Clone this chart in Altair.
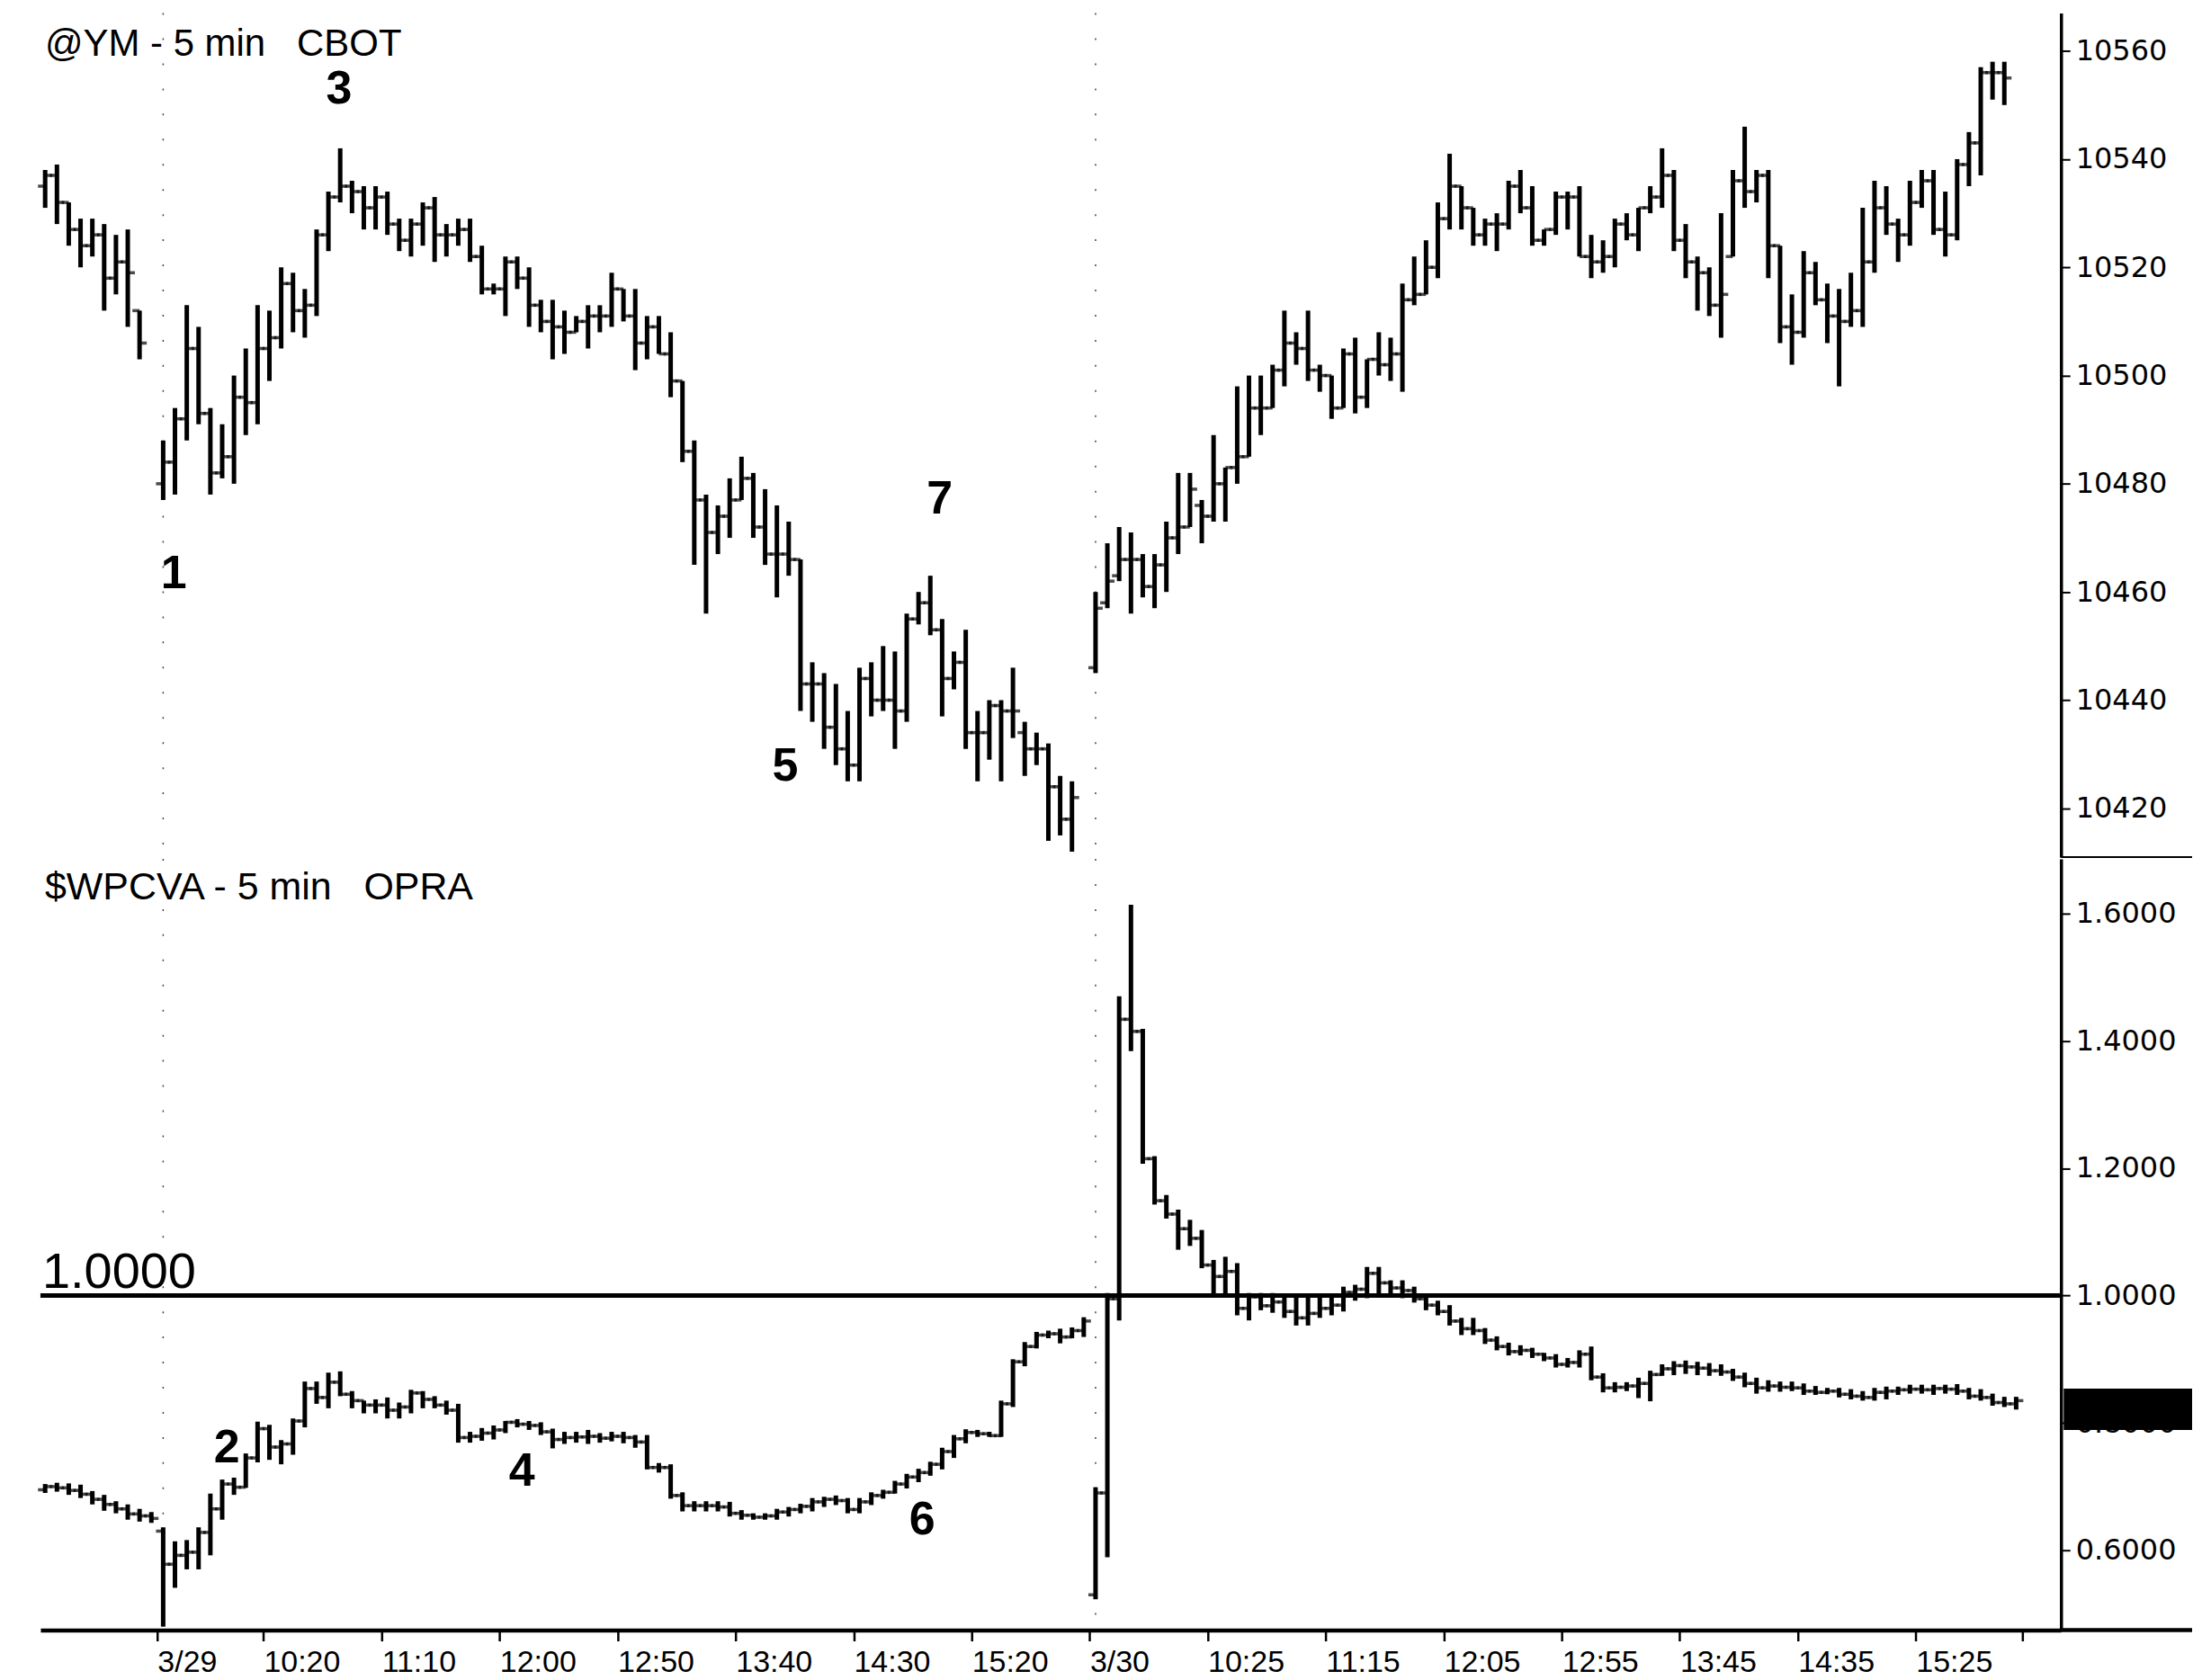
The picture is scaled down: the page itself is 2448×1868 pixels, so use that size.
import altair as alt
import pandas as pd

# ---------------- data ----------------
# @YM 5-min bars: segment start index (bar slot) for prior day, 3/29, 3/30
ym_start = [-10, 0, 79]
ym_open = [
    [10535, 10537, 10532, 10527, 10524, 10526, 10518, 10521, 10512],
    [10480, 10484, 10492, 10505, 10493, 10482, 10485, 10496, 10495, 10505,
     10507, 10517, 10512, 10513, 10526, 10533, 10535, 10534, 10531, 10533,
     10528, 10525, 10528, 10531, 10526, 10526, 10527, 10522, 10516, 10516,
     10521, 10518, 10513, 10510, 10509, 10508, 10510, 10511, 10511, 10516,
     10511, 10506, 10509, 10504, 10499, 10486, 10477, 10471, 10474, 10477,
     10481, 10472, 10467, 10467, 10466, 10443, 10443, 10435, 10431, 10428,
     10444, 10440, 10440, 10438, 10455, 10458, 10453, 10444, 10447, 10434,
     10434, 10439, 10438, 10434, 10431, 10431, 10424, 10418],
    [10446, 10458, 10463, 10466, 10466, 10461, 10465, 10470, 10472, 10476,
     10474, 10480, 10483, 10485, 10494, 10494, 10501, 10506, 10505, 10501,
     10500, 10494, 10504, 10496, 10503, 10502, 10504, 10514, 10515, 10520,
     10529, 10535, 10531, 10526, 10528, 10528, 10535, 10531, 10525, 10527,
     10533, 10533, 10522, 10521, 10522, 10528, 10526, 10531, 10533, 10537,
     10525, 10521, 10519, 10513, 10522, 10536, 10534, 10537, 10524, 10509,
     10508, 10519, 10514, 10511, 10510, 10512, 10521, 10531, 10528, 10526,
     10532, 10536, 10527, 10526, 10539, 10543, 10556, 10556],
]
ym_high = [
    [10538, 10539, 10532, 10529, 10529, 10528, 10526, 10527, 10512],
    [10488, 10494, 10513, 10509, 10494, 10491, 10500, 10505, 10513, 10512,
     10520, 10519, 10516, 10527, 10534, 10542, 10536, 10535, 10535, 10534,
     10529, 10529, 10532, 10533, 10528, 10529, 10529, 10524, 10517, 10522,
     10522, 10520, 10514, 10514, 10512, 10511, 10513, 10513, 10519, 10516,
     10516, 10511, 10511, 10508, 10499, 10488, 10478, 10476, 10481, 10485,
     10482, 10479, 10476, 10473, 10466, 10447, 10445, 10443, 10438, 10446,
     10447, 10450, 10449, 10456, 10460, 10463, 10455, 10449, 10453, 10438,
     10440, 10440, 10446, 10436, 10434, 10432, 10426, 10425],
    [10460, 10469, 10472, 10471, 10467, 10467, 10473, 10482, 10482, 10477,
     10489, 10483, 10498, 10500, 10500, 10502, 10512, 10508, 10512, 10502,
     10500, 10505, 10507, 10503, 10508, 10507, 10517, 10522, 10525, 10532,
     10541, 10535, 10531, 10529, 10530, 10536, 10538, 10535, 10527, 10534,
     10534, 10535, 10526, 10525, 10529, 10530, 10531, 10535, 10542, 10538,
     10528, 10522, 10520, 10530, 10538, 10546, 10538, 10538, 10524, 10515,
     10523, 10521, 10517, 10516, 10519, 10531, 10536, 10535, 10529, 10536,
     10538, 10538, 10534, 10540, 10545, 10557, 10558, 10558],
]
ym_low = [
    [10531, 10528, 10524, 10520, 10522, 10512, 10515, 10509, 10503],
    [10477, 10478, 10488, 10491, 10478, 10481, 10480, 10489, 10491, 10499,
     10505, 10508, 10507, 10511, 10523, 10532, 10530, 10527, 10527, 10526,
     10523, 10522, 10524, 10521, 10522, 10524, 10521, 10515, 10515, 10511,
     10516, 10509, 10508, 10503, 10504, 10508, 10505, 10508, 10509, 10510,
     10501, 10503, 10504, 10496, 10484, 10465, 10456, 10467, 10470, 10477,
     10470, 10465, 10459, 10463, 10438, 10436, 10431, 10428, 10425, 10425,
     10437, 10438, 10431, 10436, 10454, 10452, 10437, 10442, 10431, 10425,
     10429, 10425, 10433, 10426, 10428, 10414, 10415, 10412],
    [10445, 10457, 10462, 10456, 10459, 10457, 10460, 10467, 10472, 10469,
     10473, 10473, 10480, 10485, 10489, 10494, 10498, 10502, 10499, 10497,
     10492, 10494, 10493, 10494, 10500, 10499, 10497, 10513, 10515, 10518,
     10527, 10527, 10524, 10524, 10523, 10527, 10530, 10524, 10524, 10526,
     10527, 10522, 10518, 10519, 10520, 10525, 10523, 10530, 10531, 10523,
     10518, 10512, 10511, 10507, 10522, 10531, 10532, 10518, 10506, 10502,
     10507, 10513, 10506, 10498, 10509, 10509, 10519, 10526, 10521, 10524,
     10531, 10526, 10522, 10525, 10535, 10537, 10551, 10550],
]
ym_close = [
    [10537, 10532, 10527, 10524, 10526, 10518, 10521, 10519, 10506],
    [10484, 10492, 10505, 10493, 10482, 10485, 10496, 10495, 10505, 10507,
     10517, 10512, 10513, 10526, 10533, 10535, 10534, 10531, 10533, 10528,
     10525, 10528, 10531, 10526, 10526, 10527, 10522, 10516, 10516, 10521,
     10518, 10513, 10510, 10509, 10508, 10510, 10511, 10511, 10516, 10511,
     10506, 10509, 10504, 10499, 10486, 10477, 10471, 10474, 10477, 10481,
     10472, 10467, 10467, 10466, 10443, 10443, 10435, 10431, 10428, 10444,
     10440, 10440, 10438, 10455, 10458, 10453, 10444, 10447, 10434, 10434,
     10439, 10438, 10438, 10431, 10431, 10424, 10418, 10422],
    [10457, 10462, 10466, 10466, 10461, 10465, 10470, 10472, 10479, 10474,
     10480, 10483, 10485, 10494, 10494, 10501, 10506, 10505, 10501, 10500,
     10494, 10504, 10496, 10503, 10502, 10504, 10514, 10515, 10520, 10529,
     10535, 10531, 10526, 10528, 10528, 10535, 10531, 10525, 10527, 10533,
     10533, 10522, 10521, 10522, 10528, 10526, 10531, 10533, 10537, 10525,
     10521, 10519, 10513, 10515, 10536, 10534, 10537, 10524, 10509, 10508,
     10519, 10514, 10511, 10510, 10512, 10521, 10531, 10528, 10526, 10532,
     10536, 10527, 10526, 10539, 10543, 10556, 10556, 10555],
]

# $WPCVA 5-min bars
pc_start = [-10, 0, 79]
pc_open = [
    [.695, .700, .698, .694, .688, .680, .672, .665, .657, .654],
    [.630, .578, .592, .597, .628, .665, .704, .699, .745, .791,
     .762, .767, .803, .854, .840, .864, .845, .835, .828, .828,
     .820, .825, .847, .837, .828, .820, .777, .779, .784, .789,
     .801, .798, .796, .786, .774, .777, .778, .779, .776, .779,
     .777, .770, .730, .730, .686, .670, .670, .670, .668, .658,
     .655, .652, .654, .660, .664, .669, .676, .680, .678, .664,
     .676, .686, .691, .704, .715, .722, .735, .755, .775, .785,
     .783, .780, .830, .896, .920, .938, .940, .935, .945],
    [.530, .690, .995, 1.434, 1.415, 1.215, 1.149, 1.128, 1.105, 1.090,
     1.048, 1.030, 1.038, .980, .998, .984, .990, .975, .965, .972,
     .980, .985, 1.005, 1.010, 1.035, 1.020, 1.012, 1.008, .995, .985,
     .975, .960, .948, .945, .930, .920, .912, .914, .908, .902,
     .892, .895, .908, .872, .855, .856, .858, .862, .876, .885,
     .890, .888, .886, .882, .880, .872, .862, .855, .858, .856,
     .855, .850, .848, .850, .845, .842, .840, .848, .850, .852,
     .853, .852, .854, .853, .850, .842, .840, .832, .830],
]
pc_high = [
    [.704, .706, .705, .703, .693, .687, .677, .672, .665, .660],
    [.636, .614, .616, .636, .689, .711, .714, .752, .802, .797,
     .773, .807, .865, .865, .879, .881, .850, .835, .837, .840,
     .832, .852, .850, .842, .835, .830, .786, .792, .796, .803,
     .806, .803, .801, .791, .786, .786, .789, .784, .786, .786,
     .781, .781, .737, .735, .691, .677, .677, .677, .676, .663,
     .658, .658, .665, .668, .673, .682, .684, .686, .682, .682,
     .691, .695, .709, .720, .728, .739, .761, .781, .790, .789,
     .786, .835, .900, .927, .943, .945, .948, .950, .966],
    [.699, 1.004, 1.470, 1.614, 1.419, 1.219, 1.158, 1.135, 1.119, 1.103,
     1.056, 1.061, 1.051, 1.004, 1.004, 1.004, 1.000, 1.000, 1.000, 1.000,
     1.000, 1.014, 1.017, 1.045, 1.045, 1.024, 1.024, 1.014, 1.000, .992,
     .985, .965, .965, .949, .936, .926, .922, .918, .910, .908,
     .902, .914, .920, .878, .864, .864, .871, .882, .892, .897,
     .898, .896, .894, .892, .885, .879, .871, .867, .865, .865,
     .862, .858, .855, .855, .853, .850, .855, .857, .857, .860,
     .860, .860, .860, .861, .855, .853, .846, .841, .841],
]
pc_low = [
    [.690, .692, .687, .682, .672, .662, .658, .648, .645, .643],
    [.480, .541, .570, .570, .592, .648, .687, .698, .738, .742,
     .735, .750, .793, .830, .823, .842, .823, .815, .815, .807,
     .807, .815, .823, .823, .813, .769, .769, .772, .774, .784,
     .793, .789, .781, .760, .767, .769, .767, .769, .771, .768,
     .761, .727, .722, .681, .661, .661, .661, .661, .653, .648,
     .648, .648, .648, .653, .658, .661, .668, .671, .658, .658,
     .671, .681, .689, .697, .707, .717, .727, .745, .768, .778,
     .778, .778, .825, .889, .917, .933, .925, .933, .935],
    [.523, .589, .961, 1.384, 1.207, 1.143, 1.121, 1.072, 1.078, 1.043,
     1.000, 1.000, .969, .961, .977, .973, .965, .953, .953, .965,
     .969, .975, .992, .996, 1.000, 1.000, .996, .989, .977, .969,
     .953, .938, .938, .924, .914, .906, .906, .902, .897, .887,
     .887, .887, .867, .848, .848, .850, .839, .834, .874, .875,
     .877, .875, .874, .874, .866, .856, .846, .849, .849, .850,
     .844, .844, .845, .840, .837, .835, .835, .837, .844, .846,
     .846, .844, .846, .844, .837, .835, .827, .825, .821],
]
pc_close = [
    [.700, .698, .694, .688, .680, .672, .665, .657, .654, .650],
    [.578, .592, .597, .628, .665, .704, .699, .745, .791, .762,
     .767, .803, .854, .840, .864, .845, .835, .828, .828, .820,
     .825, .847, .837, .828, .820, .777, .779, .784, .789, .801,
     .798, .796, .786, .774, .777, .778, .779, .776, .779, .777,
     .770, .730, .730, .686, .670, .670, .670, .668, .658, .655,
     .652, .654, .660, .664, .669, .676, .680, .678, .664, .676,
     .686, .691, .704, .715, .722, .735, .755, .775, .785, .783,
     .780, .830, .896, .920, .938, .940, .935, .945, .960],
    [.690, .995, 1.434, 1.415, 1.215, 1.149, 1.128, 1.105, 1.090, 1.048,
     1.030, 1.038, .980, .998, .984, .990, .975, .965, .972, .980,
     .985, 1.005, 1.010, 1.035, 1.020, 1.012, 1.008, .995, .985, .975,
     .960, .948, .945, .930, .920, .912, .914, .908, .902, .892,
     .895, .908, .872, .855, .856, .858, .862, .876, .885, .890,
     .888, .886, .882, .880, .872, .862, .855, .858, .856, .855,
     .850, .848, .850, .845, .842, .840, .848, .850, .852, .853,
     .852, .854, .853, .850, .842, .840, .832, .830, .835],
]

# time axis
tick_pos = [-0.5, 8.5, 18.5, 28.5, 38.5, 48.5, 58.5, 68.5,
            78.5, 88.5, 98.5, 108.5, 118.5, 128.5, 138.5, 148.5, 157.5]
tick_text = ["3/29", "10:20", "11:10", "12:00", "12:50", "13:40", "14:30", "15:20",
             "3/30", "10:25", "11:15", "12:05", "12:55", "13:45", "14:35", "15:25", ""]
session_starts = [0, 79]

# wave annotations
top_note_text = ["1", "3", "5", "7"]
top_note_x = [0.9, 14.9, 52.7, 65.8]
top_note_y = [10463.3, 10552.9, 10427.8, 10477.1]
bot_note_text = ["2", "4", "6"]
bot_note_x = [5.4, 30.4, 64.3]
bot_note_y = [0.761, 0.724, 0.647]

ref_level = [1.0]
ref_label = ["1.0000"]
last_marker = [0.854, 0.789]

ym_ticks = [10420, 10440, 10460, 10480, 10500, 10520, 10540, 10560]
pc_ticks = [0.6, 0.8, 1.0, 1.2, 1.4, 1.6]


# ---------------- helpers ----------------
def ohlc_frame(starts, o, h, l, c):
    recs = []
    for s, so, sh, sl, sc in zip(starts, o, h, l, c):
        n = len(so)
        if not (len(sh) == len(sl) == len(sc) == n):
            raise ValueError(f"segment {s}: {n},{len(sh)},{len(sl)},{len(sc)}")
        for k in range(n):
            recs.append({"idx": s + k, "open": so[k], "high": sh[k],
                         "low": sl[k], "close": sc[k]})
    return pd.DataFrame(recs)


ym_df = ohlc_frame(ym_start, ym_open, ym_high, ym_low, ym_close)
pc_df = ohlc_frame(pc_start, pc_open, pc_high, pc_low, pc_close)

W = 2250
H_TOP = 940
H_BOT = 859
EXT = 146
NARROW = "Liberation Sans Narrow, Liberation Sans, Arial, sans-serif"
SANS = "Liberation Sans, Arial, sans-serif"

x_scale = alt.Scale(domain=[-10.4, 160.8], nice=False, zero=False)
top_scale = alt.Scale(domain=[10411, 10567], nice=False, zero=False)
bot_scale = alt.Scale(domain=[0.4745, 1.686], nice=False, zero=False)

common_y_axis = dict(orient="right", title=None, grid=False, tickSize=10, tickWidth=2,
                     tickColor="black", domainColor="black", domainWidth=3.5,
                     labelPadding=6, labelFont="DejaVu Sans", labelFontSize=32,
                     labelColor="black", labelOverlap=False)
top_axis = alt.Axis(values=ym_ticks, format="d", **common_y_axis)
bot_axis = alt.Axis(values=pc_ticks, format=".4f", **common_y_axis)

NBSP = "\u00a0"
label_expr = ("[" + ",".join(f"'{NBSP}{t}'" for t in tick_text) + "][indexof(["
              + ",".join(str(p) for p in tick_pos) + "], datum.value)]")
x_axis_bottom = alt.Axis(values=tick_pos, labelExpr=label_expr, title=None, grid=False,
                         tickSize=12, tickWidth=2.5, tickColor="black",
                         domainColor="black", domainWidth=4.5, labelAlign="left",
                         labelPadding=7, labelFont=NARROW, labelFontSize=34,
                         labelColor="black", labelOverlap=False, labelBaseline="top")


def bars_layers(df, yscale, yaxis, xaxis):
    xenc = alt.X("idx:Q", scale=x_scale, axis=xaxis)
    base = alt.Chart(df)
    rng = base.mark_rule(color="black", strokeWidth=5).encode(
        x=xenc, y=alt.Y("low:Q", scale=yscale, axis=yaxis), y2="high:Q")
    op = base.mark_tick(color="black", orient="horizontal", size=8, thickness=3.5,
                        xOffset=-4).encode(
        x=xenc, y=alt.Y("open:Q", scale=yscale, axis=yaxis))
    cl = base.mark_tick(color="black", orient="horizontal", size=8, thickness=3.5,
                        xOffset=4).encode(
        x=xenc, y=alt.Y("close:Q", scale=yscale, axis=yaxis))
    return [rng, op, cl], xenc


# ---------------- top panel ----------------
top_bars, top_x = bars_layers(ym_df, top_scale, top_axis, None)
sess_df = pd.DataFrame({"idx": session_starts})
top_sess = alt.Chart(sess_df).mark_rule(color="#444", strokeWidth=1.5,
                                        strokeDash=[2, 26]).encode(x=top_x)
top_notes = alt.Chart(pd.DataFrame({"idx": top_note_x, "val": top_note_y,
                                    "label": top_note_text})).mark_text(
    font=NARROW, fontSize=52, fontWeight="bold", color="black",
    align="center", baseline="middle").encode(
    x=top_x, y=alt.Y("val:Q", scale=top_scale, axis=top_axis), text="label:N")
top_title = alt.Chart(pd.DataFrame({"t": ["@YM - 5 min\u00a0\u00a0\u00a0CBOT"]})).mark_text(
    font=SANS, fontSize=42, color="black", align="left", baseline="alphabetic").encode(
    x=alt.value(5), y=alt.value(48), text="t:N")
top_sep = alt.Chart(pd.DataFrame({"k": [0]})).mark_rule(color="black", strokeWidth=2).encode(
    x=alt.value(W), x2=alt.value(W + EXT), y=alt.value(H_TOP))

top = alt.layer(top_sess, *top_bars, top_notes, top_title, top_sep).properties(
    width=W, height=H_TOP)

# ---------------- bottom panel ----------------
bot_bars, bot_x = bars_layers(pc_df, bot_scale, bot_axis, x_axis_bottom)
bot_sess = alt.Chart(sess_df).mark_rule(color="#444", strokeWidth=1.5,
                                        strokeDash=[2, 26]).encode(x=bot_x)
ref_df = pd.DataFrame({"v": ref_level, "label": ref_label})
ref_line = alt.Chart(ref_df).mark_rule(color="black", strokeWidth=5).encode(
    x=alt.value(0), x2=alt.value(W), y=alt.Y("v:Q", scale=bot_scale, axis=bot_axis))
ref_text = alt.Chart(ref_df).mark_text(
    font=NARROW, fontSize=56, color="black", align="left", baseline="alphabetic",
    dy=-9).encode(x=alt.value(2), y=alt.Y("v:Q", scale=bot_scale, axis=bot_axis),
                  text="label:N")
bot_notes = alt.Chart(pd.DataFrame({"idx": bot_note_x, "val": bot_note_y,
                                    "label": bot_note_text})).mark_text(
    font=NARROW, fontSize=52, fontWeight="bold", color="black",
    align="center", baseline="middle").encode(
    x=bot_x, y=alt.Y("val:Q", scale=bot_scale, axis=bot_axis), text="label:N")
bot_title = alt.Chart(pd.DataFrame({"t": ["$WPCVA - 5 min\u00a0\u00a0\u00a0OPRA"]})).mark_text(
    font=SANS, fontSize=43, color="black", align="left", baseline="alphabetic").encode(
    x=alt.value(5), y=alt.value(45), text="t:N")
marker = alt.Chart(pd.DataFrame({"top": [last_marker[0]], "bot": [last_marker[1]]})).mark_rect(
    color="black").encode(x=alt.value(W + 3), x2=alt.value(W + EXT),
                          y=alt.Y("top:Q", scale=bot_scale, axis=bot_axis), y2="bot:Q")
bot_ext = alt.Chart(pd.DataFrame({"k": [0]})).mark_rule(color="black", strokeWidth=4.5).encode(
    x=alt.value(W), x2=alt.value(W + EXT), y=alt.value(H_BOT))

bottom = alt.layer(bot_sess, ref_line, *bot_bars, ref_text, bot_notes, bot_title,
                   marker, bot_ext).properties(width=W, height=H_BOT)

chart = alt.vconcat(top, bottom, spacing=0).properties(
    padding={"left": 34, "top": 4, "right": 0, "bottom": 0}
).configure(background="white").configure_view(stroke=None)

chart.save("out.html", embed_options={"renderer": "svg", "actions": False})
